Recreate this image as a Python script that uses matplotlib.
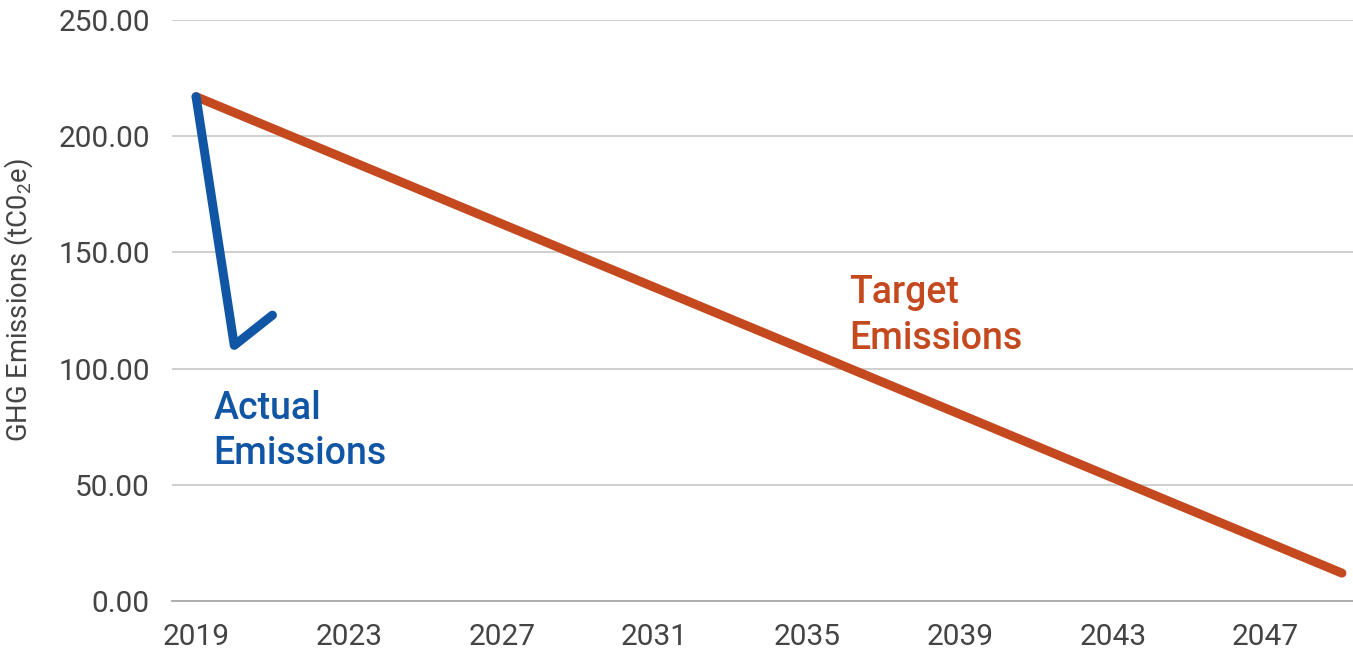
import numpy as np
import matplotlib.pyplot as plt

plt.rcParams['font.family'] = ['Roboto', 'DejaVu Sans']
plt.rcParams['mathtext.fontset'] = 'custom'
plt.rcParams['mathtext.rm'] = 'Roboto'
plt.rcParams['mathtext.it'] = 'Roboto'

# Data
target_years = np.arange(2019, 2050)
target_start, target_end = 217.0, 12.0
target_values = [target_start + (target_end - target_start) * i / (len(target_years) - 1)
                 for i in range(len(target_years))]

actual_years = [2019, 2020, 2021]
actual_values = [217.0, 110.0, 123.0]

tick_years = list(range(2019, 2050, 4))
y_ticks = [0, 50, 100, 150, 200, 250]

BLUE = "#1155a5"
ORANGE = "#c4491f"
GRID = "#cccccc"
TEXT = "#444444"

fig = plt.figure(figsize=(13.53, 6.52), dpi=100)
ax = fig.add_axes([172 / 1353, 51 / 652, 1 - 172 / 1353, (601 - 20) / 652])

ax.plot(target_years, target_values, color=ORANGE, lw=6.5,
        solid_capstyle="round", solid_joinstyle="round", clip_on=False, zorder=3)
ax.plot(actual_years, actual_values, color=BLUE, lw=6.5,
        solid_capstyle="round", solid_joinstyle="round", clip_on=False, zorder=4)

ax.set_xlim(2018.37, 2049.29)
ax.set_ylim(0, 250)
ax.set_xticks(tick_years)
ax.set_xticklabels([str(y) for y in tick_years])
ax.set_yticks(y_ticks)
ax.set_yticklabels([f"{v:.2f}" for v in y_ticks])
ax.tick_params(axis="both", length=0, labelsize=21.5, colors=TEXT)
ax.tick_params(axis="y", pad=16)
ax.tick_params(axis="x", pad=16)

ax.grid(axis="y", color=GRID, lw=1.3)
ax.set_axisbelow(True)
for side in ["top", "right", "left"]:
    ax.spines[side].set_visible(False)
ax.spines["bottom"].set_color("#aaaaaa")
ax.spines["bottom"].set_linewidth(1.3)

ax.set_ylabel("GHG Emissions (tC0$_2$e)", fontsize=19.7, color=TEXT)
ax.yaxis.set_label_coords(-0.116, 0.518)

ax.text(2019.45, 91, "Actual\nEmissions", color=BLUE, fontsize=27,
        fontweight="medium", va="top", ha="left", linespacing=1.3)
ax.text(2036.1, 140.5, "Target\nEmissions", color=ORANGE, fontsize=27,
        fontweight="medium", va="top", ha="left", linespacing=1.3)

fig.savefig("out.png", dpi=100)
